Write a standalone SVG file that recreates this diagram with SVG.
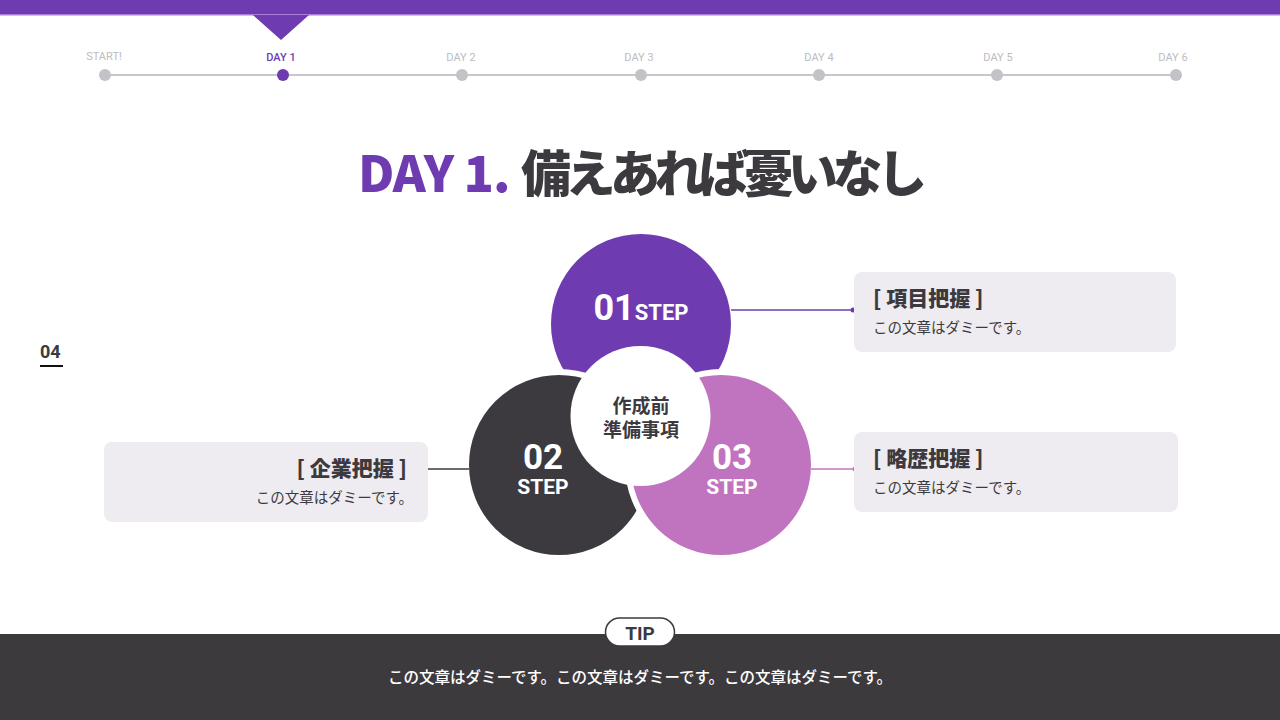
<svg xmlns="http://www.w3.org/2000/svg" width="1280" height="720" viewBox="0 0 1280 720">
<defs>
<style>
.tl{font-family:Roboto,"Noto Sans",sans-serif;font-size:11px;fill:#bdbbc0;text-anchor:middle}
.dot{fill:#c4c2c6}
.ct{font-family:"Noto Sans CJK JP","Noto Sans",sans-serif;font-weight:900;font-size:21px;fill:#3d3a3f}
.cs{font-family:"Noto Sans CJK JP","Noto Sans",sans-serif;font-size:14.5px;fill:#3d3a3f}
.card{fill:#eeecf0}
.num{font-family:Roboto,"Liberation Sans",sans-serif;font-weight:700;fill:#ffffff;text-anchor:middle}
.ring{stroke:#ffffff;stroke-width:6}
</style>
</defs>
<rect width="1280" height="720" fill="#ffffff"/>
<g id="header">
<rect x="0" y="0" width="1280" height="15" fill="#6f3bb1"/>
<rect x="0" y="14" width="1280" height="1.5" fill="#a77fd6"/>
<polygon points="253,15 309,15 281,40" fill="#6f3bb1"/>
</g>
<g id="timeline">
<line x1="105" y1="75" x2="1176" y2="75" stroke="#c9c7cb" stroke-width="2"/>
<circle class="dot" cx="105" cy="75" r="6"/>
<circle cx="283" cy="75" r="6" fill="#6f3bb1"/>
<circle class="dot" cx="462" cy="75" r="6"/>
<circle class="dot" cx="641" cy="75" r="6"/>
<circle class="dot" cx="819" cy="75" r="6"/>
<circle class="dot" cx="997" cy="75" r="6"/>
<circle class="dot" cx="1176" cy="75" r="6"/>
<text class="tl" x="104" y="60">START!</text>
<text class="tl" x="281" y="61" style="fill:#6f3bb1;font-weight:500">DAY 1</text>
<text class="tl" x="461" y="61">DAY 2</text>
<text class="tl" x="639" y="61">DAY 3</text>
<text class="tl" x="819" y="61">DAY 4</text>
<text class="tl" x="998" y="61">DAY 5</text>
<text class="tl" x="1173" y="61">DAY 6</text>
</g>
<g id="title">
<text x="358" y="192" font-family="'Noto Sans CJK JP','Noto Sans',sans-serif" font-weight="900" font-size="50" fill="#3d3a3f"><tspan fill="#6f3bb1" letter-spacing="-1">DAY 1.</tspan> <tspan letter-spacing="-5.5">備えあれば憂いなし</tspan></text>
</g>
<g id="page-num">
<text x="40" y="358" font-family="Roboto,'Liberation Sans',sans-serif" font-weight="700" font-size="18" fill="#3d3a3f">04</text>
<rect x="40" y="365" width="23" height="2" fill="#111111"/>
</g>
<g id="step1">
<circle cx="641" cy="324" r="90" fill="#6f3bb1"/>
</g>
<g id="step2">
<circle class="ring" cx="559" cy="465" r="93" fill="#3d3a3f"/>
<text class="num" x="543" y="469" font-size="35">02</text>
<text class="num" x="543" y="494" font-size="21">STEP</text>
</g>
<g id="step3">
<circle class="ring" cx="721" cy="465" r="93" fill="#c074bf"/>
<text class="num" x="732" y="469" font-size="35">03</text>
<text class="num" x="732" y="494" font-size="21">STEP</text>
</g>
<g id="step1-label">
<text class="num" x="641" y="320" font-size="36">01<tspan font-size="22">STEP</tspan></text>
</g>
<g id="center">
<circle cx="640.5" cy="416" r="70" fill="#ffffff"/>
<text x="641" y="413" font-family="'Noto Sans CJK JP',sans-serif" font-weight="700" font-size="19" fill="#3d3a3f" text-anchor="middle">作成前</text>
<text x="641" y="437" font-family="'Noto Sans CJK JP',sans-serif" font-weight="700" font-size="19" fill="#3d3a3f" text-anchor="middle">準備事項</text>
</g>
<g id="connectors">
<line x1="731" y1="310" x2="853" y2="310" stroke="#6f3bb1" stroke-width="1.5"/>
<circle cx="853" cy="310" r="2.5" fill="#6f3bb1"/>
<line x1="811" y1="469" x2="855" y2="469" stroke="#c076c0" stroke-width="1.5"/>
<circle cx="855" cy="469" r="2.5" fill="#c076c0"/>
<line x1="425" y1="469" x2="469" y2="469" stroke="#3d3a3f" stroke-width="1.5"/>
<circle cx="425" cy="469" r="2.5" fill="#3d3a3f"/>
</g>
<g id="card1">
<rect class="card" x="854" y="272" width="322" height="80" rx="8"/>
<text class="ct" x="873" y="306">[ 項目把握 ]</text>
<text class="cs" x="873" y="333">この文章はダミーです。</text>
</g>
<g id="card3">
<rect class="card" x="854" y="432" width="324" height="80" rx="8"/>
<text class="ct" x="873" y="466">[ 略歴把握 ]</text>
<text class="cs" x="873" y="493">この文章はダミーです。</text>
</g>
<g id="card2">
<rect class="card" x="104" y="442" width="324" height="80" rx="8"/>
<text class="ct" x="407" y="476" text-anchor="end">[ 企業把握 ]</text>
<text class="cs" x="413" y="503" text-anchor="end">この文章はダミーです。</text>
</g>
<g id="footer">
<rect x="0" y="634" width="1280" height="86" fill="#3d3a3e"/>
<rect x="605.5" y="618" width="69" height="28" rx="14" fill="#ffffff" stroke="#3d3a3e" stroke-width="1.5"/>
<text x="640" y="640" font-family="Roboto,'Liberation Sans',sans-serif" font-weight="700" font-size="19" fill="#3d3a3e" text-anchor="middle">TIP</text>
<text x="640" y="683" font-family="'Noto Sans CJK JP',sans-serif" font-weight="500" font-size="15.5" fill="#ffffff" text-anchor="middle">この文章はダミーです。この文章はダミーです。この文章はダミーです。</text>
</g>
</svg>
